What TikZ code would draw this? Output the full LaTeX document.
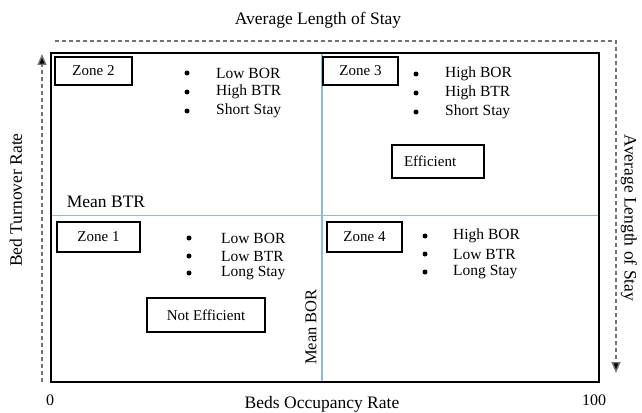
\documentclass[tikz,border=0pt]{standalone}
\usepackage{fontspec}
\setmainfont{Liberation Serif}
\usetikzlibrary{arrows.meta}
\definecolor{meanblue}{HTML}{8DB9E3}
\begin{document}
\begin{tikzpicture}[x=1pt,y=-1pt,
  zonebox/.style={draw,line width=1.4pt,minimum width=76pt,minimum height=28pt,inner sep=0pt,font=\fontsize{15}{17}\selectfont},
  effbox/.style={draw,line width=1.3pt,inner sep=0pt,font=\fontsize{15}{17}\selectfont},
  item/.style={anchor=west,font=\fontsize{15.5}{17}\selectfont,inner sep=0pt},
  dot/.style={circle,fill=black,inner sep=0pt,minimum size=5pt},
  axlabel/.style={font=\fontsize{17.5}{20}\selectfont,inner sep=0pt},
  dasharrow/.style={draw=black!55,line width=1.4pt,dash pattern=on 4pt off 3pt},
  meanline/.style={draw=meanblue,line width=1.1pt}]
\useasboundingbox (0,0) rectangle (642,412);
% mean lines
\coordinate (tl) at (51,53);
\coordinate (br) at (599,382);
\draw[meanline] (322,53) -- (322,382);
\draw[meanline] (51,215.5) -- (599,215.5);
% main frame
\draw[line width=2.8pt] (tl) rectangle (br);
% dashed axis arrows
\coordinate (ls) at (42,382);
\coordinate (le) at (42,54);
\draw[dasharrow,-{Triangle[length=11pt,width=9pt,fill=black]}] (ls) -- (le);
\coordinate (ts) at (55,41);
\coordinate (tc) at (616,41);
\coordinate (te) at (616,373);
\draw[dasharrow,-{Triangle[length=11pt,width=9pt,fill=black]}] (ts) -- (tc) -- (te);
% zone boxes
\node[zonebox,minimum width=77pt] (z2) at (93.5,71) {Zone 2};
\node[zonebox,minimum width=75pt] (z3) at (360.5,71) {Zone 3};
\node[zonebox,minimum width=83pt,minimum height=30pt] (z1) at (98.5,237) {Zone 1};
\node[zonebox,minimum width=75pt,minimum height=30pt] (z4) at (364.5,237) {Zone 4};
\node[effbox,minimum width=92pt,minimum height=33pt,text width=80pt,align=left] (eff) at (438,161.5) {\hspace*{6pt}Efficient};
\node[effbox,minimum width=118pt,minimum height=34pt] (neff) at (206,315) {Not Efficient};
% zone 2 items
\node[dot] (d21) at (187,73) {}; \node[item] (t21) at (216,73) {Low BOR};
\node[dot] (d22) at (187,92) {}; \node[item] (t22) at (216,92) {High BTR};
\node[dot] (d23) at (187,111) {}; \node[item] (t23) at (216,111) {Short Stay};
% zone 3 items
\node[dot] (d31) at (416,74) {}; \node[item] (t31) at (445,74) {High BOR};
\node[dot] (d32) at (416,93) {}; \node[item] (t32) at (445,93) {High BTR};
\node[dot] (d33) at (416,112) {}; \node[item] (t33) at (445,112) {Short Stay};
% zone 1 items
\node[dot] (d11) at (189,238) {}; \node[item] (t11) at (221,238) {Low BOR};
\node[dot] (d12) at (189,256) {}; \node[item] (t12) at (221,256) {Low BTR};
\node[dot] (d13) at (189,273) {}; \node[item] (t13) at (221,273) {Long Stay};
% zone 4 items
\node[dot] (d41) at (425,236) {}; \node[item] (t41) at (453,236) {High BOR};
\node[dot] (d42) at (425,254) {}; \node[item] (t42) at (453,254) {Low BTR};
\node[dot] (d43) at (425,272) {}; \node[item] (t43) at (453,272) {Long Stay};
% labels
\node[axlabel] (alos) at (318,20) {Average Length of Stay};
\node[axlabel,rotate=90] (btr) at (16,200) {Bed Turnover Rate};
\node[axlabel,rotate=-90] (alos2) at (629,218) {Average Length of Stay};
\node[axlabel] (mbtr) at (106,202) {Mean BTR};
\node[axlabel,font=\fontsize{16.5}{18}\selectfont,rotate=90] (mbor) at (311,327) {Mean BOR};
\node[axlabel] (bor) at (322,404) {Beds Occupancy Rate};
\node[axlabel,font=\fontsize{16}{18}\selectfont] (zero) at (50,400) {0};
\node[axlabel,font=\fontsize{16}{18}\selectfont] (hund) at (594,400) {100};
\end{tikzpicture}
\end{document}
